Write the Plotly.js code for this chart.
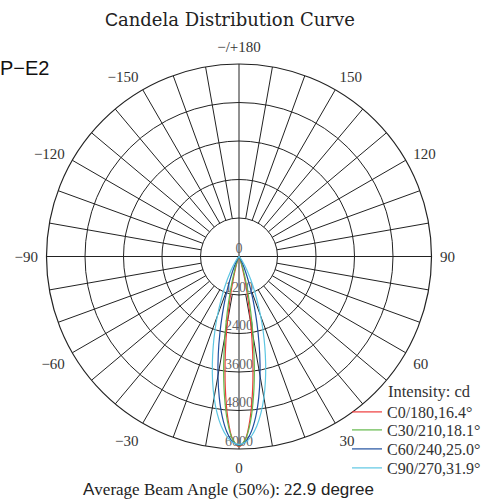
<!DOCTYPE html>
<html>
<head>
<meta charset="utf-8">
<script src="https://cdn.plot.ly/plotly-3.0.1.min.js"></script>
<style>html,body{margin:0;padding:0;background:#fff;}#chart{width:483px;height:501px;}</style>
</head>
<body>
<div id="chart"></div>
<script>
// gamma angles (degrees from nadir), negative = opposite half-plane
const gammaDeg = [-90,-80,-70,-60,-50,-40,-35,-30,-25,-20,-18,-16,-14,-12,-10,-8,-6,-4,-2,0,2,4,6,8,10,12,14,16,18,20,25,30,35,40,50,60,70,80,90];

// intensities (cd)
const c0_180  = [0,0,1,2,3,5,7,12,30,95,210,424,789,1346,2117,3066,4092,5029,5693,5930,5693,5029,4092,3066,2117,1346,789,424,210,95,30,12,7,5,3,2,1,0,0];
const c30_210 = [0,0,1,2,3,5,7,10,30,200,380,676,1121,1746,2531,3434,4348,5151,5705,5900,5705,5151,4348,3434,2531,1746,1121,676,380,200,30,10,7,5,3,2,1,0,0];
const c60_240 = [0,1,2,3,5,10,26,109,368,1000,1399,1887,2464,3105,3775,4428,5010,5474,5774,5880,5774,5474,5010,4428,3775,3105,2464,1887,1399,1000,368,109,26,10,5,3,2,1,0];
const c90_270 = [0,1,2,5,15,75,208,504,1067,1969,2426,2918,3434,3961,4465,4922,5315,5608,5796,5860,5796,5608,5315,4922,4465,3961,3434,2918,2426,1969,1067,504,208,75,15,5,2,1,0];

const seriesNames = ["C0/180,16.4°","C30/210,18.1°","C60/240,25.0°","C90/270,31.9°"];
const seriesValues = [c0_180, c30_210, c60_240, c90_270];
const seriesColors = ["#ee3a3a","#62b84a","#1f4f9e","#5cc6e2"];

// axis labels
const radialVals = [0,1200,2400,3600,4800,6000];
const radialText = ["0","1200","2400","3600","4800","6000"];
const angTickVals = [0,30,60,90,120,150,180,210,240,270,300,330];
const angTickText = ["0","30","60","90","120","150","−/+180","−150","−120","−90","−60","−30"];

// spokes every 10 degrees (main axes through the center, others from the first ring)
const spokeR = [], spokeT = [];
for (let a = 0; a < 360; a += 10) {
  const r0 = (a % 90 === 0) ? 0 : 1200;
  spokeR.push(r0, 6000, null);
  spokeT.push(a, a, null);
}

const W = 483, H = 501;
const cx = 239, cy = 256.5, R = 192.5;
const serif = 'Liberation Serif, serif';
const legendY = [412, 430, 449, 468];

const traces = [];
traces.push({
  type: 'scatterpolar', mode: 'lines', r: spokeR, theta: spokeT,
  line: {color: '#222', width: 1}, hoverinfo: 'skip', showlegend: false, connectgaps: false
});
traces.push({
  type: 'scatterpolar', mode: 'text', r: radialVals, theta: radialVals.map(() => 0),
  text: radialText, textposition: 'top center',
  textfont: {family: serif, size: 14, color: 'rgba(70,70,70,0.85)'},
  hoverinfo: 'skip', showlegend: false
});
for (let i = 0; i < seriesNames.length; i++) {
  traces.push({
    type: 'scatterpolar', mode: 'lines', name: seriesNames[i],
    r: seriesValues[i], theta: gammaDeg,
    line: {color: seriesColors[i], width: 1.2, shape: 'spline'},
    hoverinfo: 'skip', showlegend: true,
    legend: i === 0 ? 'legend' : 'legend' + (i + 1)
  });
}

const layout = {
  width: W, height: H,
  margin: {l: 0, r: 0, t: 0, b: 0, autoexpand: false},
  paper_bgcolor: '#fff',
  showlegend: true,
  polar: {
    domain: {x: [(cx - R) / W, (cx + R) / W], y: [(H - cy - R) / H, (H - cy + R) / H]},
    bgcolor: '#fff',
    radialaxis: {
      range: [0, 6000], tickvals: [1200, 2400, 3600, 4800, 6000],
      showticklabels: false, ticks: '', showline: false,
      gridcolor: '#222', gridwidth: 1
    },
    angularaxis: {
      rotation: -90, direction: 'counterclockwise',
      tickmode: 'array', tickvals: angTickVals, ticktext: angTickText,
      showgrid: false, showline: true, linecolor: '#222', linewidth: 1.2,
      ticks: 'outside', ticklen: 5, tickcolor: 'rgba(0,0,0,0)',
      tickfont: {family: serif, size: 15, color: '#333'}
    }
  },
  annotations: [
    {xref: 'paper', yref: 'paper', x: 230 / W, y: (H - 20) / H, xanchor: 'center', yanchor: 'middle',
     showarrow: false,
     text: '<span style="font-family:Liberation Sans">C</span>andela Distribution Curve',
     font: {family: 'DejaVu Serif, serif', size: 18, color: '#222'}},
    {xref: 'paper', yref: 'paper', x: -2 / W, y: (H - 68) / H, xanchor: 'left', yanchor: 'middle',
     showarrow: false, text: 'P−E2',
     font: {family: 'Liberation Sans, sans-serif', size: 20, color: '#111'}},
    {xref: 'paper', yref: 'paper', x: 386 / W, y: (H - 391) / H, xanchor: 'left', yanchor: 'middle',
     showarrow: false, text: 'Intensity: cd',
     font: {family: serif, size: 16.5, color: '#333'}},
    {xref: 'paper', yref: 'paper', x: 228 / W, y: (H - 489) / H, xanchor: 'center', yanchor: 'middle',
     showarrow: false,
     text: '<span style="font-family:Liberation Sans">A</span>verage Beam Angle (50%): 2<span style="font-family:Liberation Sans">2.9 degree</span>',
     font: {family: serif, size: 17, color: '#222'}}
  ]
};

for (let i = 0; i < seriesNames.length; i++) {
  const key = i === 0 ? 'legend' : 'legend' + (i + 1);
  layout[key] = {
    x: 347 / W, y: (H - legendY[i]) / H, xanchor: 'left', yanchor: 'middle',
    bgcolor: 'rgba(0,0,0,0)', borderwidth: 0,
    font: {family: serif, size: 16, color: '#333'}
  };
}

Plotly.newPlot('chart', traces, layout, {displayModeBar: false, staticPlot: true});
</script>
</body>
</html>
